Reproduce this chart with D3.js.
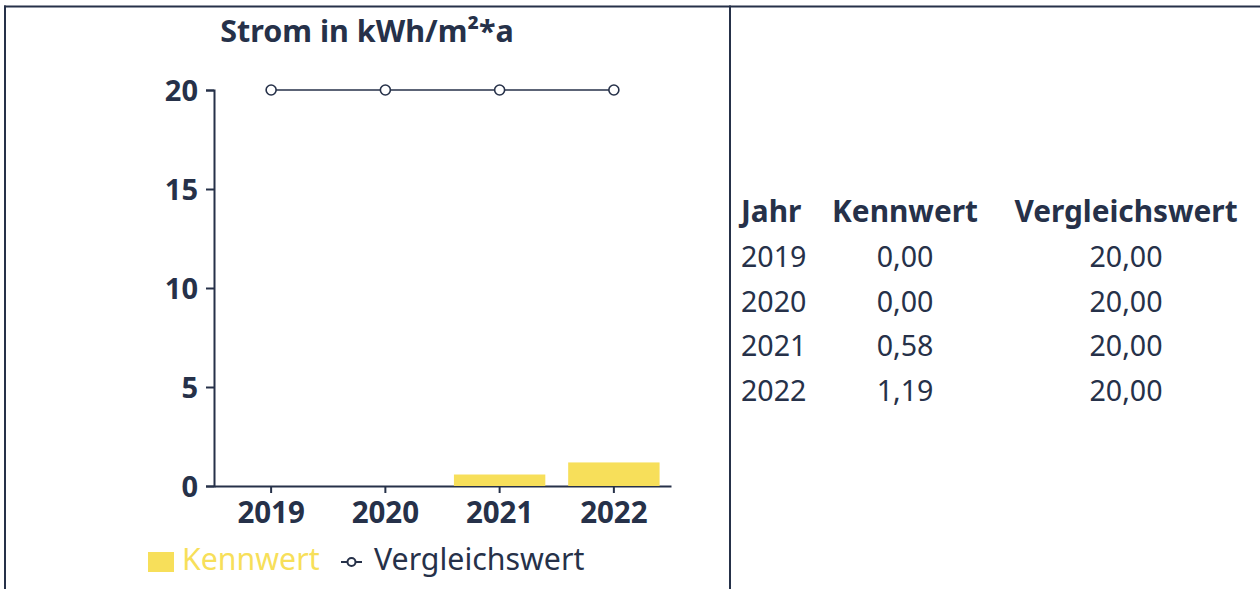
<!DOCTYPE html>
<html><head><meta charset="utf-8">
<script src="https://cdn.jsdelivr.net/npm/d3@7"></script>
<style>
html,body{margin:0;padding:0;background:#fff;}
svg{display:block;font-family:"Noto Sans",sans-serif;}
</style></head>
<body><svg id="c" width="1260" height="589"></svg>
<script>
const title = "Strom in kWh/m²*a";
const years = ["2019","2020","2021","2022"];
const kennwert = [0.00, 0.00, 0.58, 1.19];
const vergleichswert = [20.00, 20.00, 20.00, 20.00];
const yTicks = [0, 5, 10, 15, 20];
const tableHeaders = ["Jahr", "Kennwert", "Vergleichswert"];
const seriesNames = ["Kennwert", "Vergleichswert"];

const dark = "#263149";
const yellow = "#f7df5a";
const svg = d3.select("#c");

// frame
svg.append("line").attr("x1",4).attr("x2",1260).attr("y1",6.5).attr("y2",6.5).attr("stroke",dark).attr("stroke-width",2);
svg.append("line").attr("x1",5).attr("x2",5).attr("y1",5.5).attr("y2",589).attr("stroke",dark).attr("stroke-width",2);
svg.append("line").attr("x1",730).attr("x2",730).attr("y1",5.5).attr("y2",589).attr("stroke",dark).attr("stroke-width",2);

// title
svg.append("text").attr("x",367).attr("y",42).attr("text-anchor","middle")
  .attr("font-size",30.5).attr("font-weight",700).attr("fill",dark).text(title);

const x = d3.scaleBand().domain(years).range([214, 671]).paddingInner(0.2).paddingOuter(0.1);
const y = d3.scaleLinear().domain([0, 20]).range([486, 90]);

// y axis
const ya = svg.append("g").attr("transform","translate(214,0)")
  .call(d3.axisLeft(y).tickValues(yTicks).tickFormat(d3.format("d")).tickSize(8).tickPadding(8));
ya.selectAll("path,line").attr("stroke",dark).attr("stroke-width",2);
ya.selectAll("text").attr("font-size",29).attr("font-weight",700).attr("fill",dark).attr("font-family","Noto Sans").attr("dy","0.36em");

// x axis
const xa = svg.append("g").attr("transform","translate(0,486)")
  .call(d3.axisBottom(x).tickSize(7).tickSizeOuter(0).tickPadding(9));
xa.select(".domain").attr("stroke",dark).attr("stroke-width",2);
xa.selectAll("line").attr("stroke",dark).attr("stroke-width",2);
xa.selectAll("text").attr("font-size",29.5).attr("font-weight",700).attr("fill",dark).attr("font-family","Noto Sans");

// bars
svg.append("g").selectAll("rect").data(years).join("rect")
  .attr("x", d => x(d)).attr("width", x.bandwidth())
  .attr("y", (d,i) => y(kennwert[i])).attr("height", (d,i) => y(0) - y(kennwert[i]))
  .attr("fill", yellow);

// line
const cx = d => x(d) + x.bandwidth()/2;
svg.append("path").datum(years)
  .attr("d", d3.line().x(d => cx(d)).y((d,i) => y(vergleichswert[i])))
  .attr("fill","none").attr("stroke",dark).attr("stroke-width",1.6);
svg.append("g").selectAll("circle").data(years).join("circle")
  .attr("cx", d => cx(d)).attr("cy", (d,i) => y(vergleichswert[i])).attr("r",5)
  .attr("fill","#fff").attr("stroke",dark).attr("stroke-width",1.6);

// legend
const lg = svg.append("g");
lg.append("rect").attr("x",148).attr("y",552).attr("width",26).attr("height",20).attr("fill",yellow);
lg.append("text").attr("x",182).attr("y",570).attr("font-size",30.3).attr("fill",yellow).text(seriesNames[0]);
lg.append("line").attr("x1",341).attr("x2",362).attr("y1",562).attr("y2",562).attr("stroke",dark).attr("stroke-width",2);
lg.append("circle").attr("cx",351.5).attr("cy",562).attr("r",4).attr("fill","#fff").attr("stroke",dark).attr("stroke-width",2);
lg.append("text").attr("x",374).attr("y",570).attr("font-size",30.3).attr("fill",dark).text(seriesNames[1]);

// table
const fmt = v => d3.format(".2f")(v).replace(".", ",");
const colX = [741, 905, 1126];
const colAnchor = ["start","middle","middle"];
const tb = svg.append("g").attr("fill",dark);
tableHeaders.forEach((h,i) => {
  tb.append("text").attr("x",colX[i]).attr("y",222).attr("text-anchor",colAnchor[i]).attr("font-size",29.8).attr("font-weight",700).text(h);
});
years.forEach((yr,r) => {
  const yy = 267 + r*44.7;
  [yr, fmt(kennwert[r]), fmt(vergleichswert[r])].forEach((t,i) => {
    tb.append("text").attr("x",colX[i]).attr("y",yy).attr("text-anchor",colAnchor[i]).attr("font-size",28.6).text(t);
  });
});
</script></body></html>
